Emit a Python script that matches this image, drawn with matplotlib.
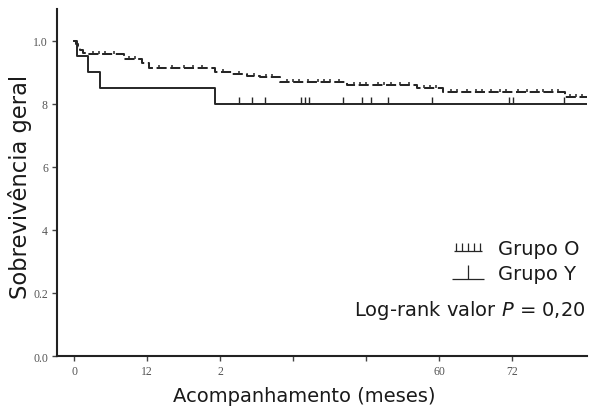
import numpy as np
import matplotlib
matplotlib.use("Agg")
import matplotlib.pyplot as plt
from matplotlib.path import Path
from matplotlib.lines import Line2D

# ---- data ----
o_times = [0, 0.3, 0.6, 1.0, 1.5, 2.0, 8.1, 11.1, 12.2, 23.2, 25.9, 28.4, 30.5, 33.8, 44.8, 56.3, 60.7, 80.7, 84.3]
o_surv = [1.0, 0.99, 0.98, 0.97, 0.962, 0.958, 0.940, 0.928, 0.912, 0.900, 0.894, 0.889, 0.886, 0.870, 0.859, 0.849, 0.836, 0.820, 0.820]
o_censor = [3, 4, 5, 6.5, 9, 10, 14, 16, 18, 19.5, 21, 24.5, 27, 29.5, 31.5, 32.5, 35, 36, 37, 38.5, 40, 41, 42, 43.5,
            46, 47, 48, 50, 51, 52, 53.5, 55, 57.5, 58.5, 59.5, 62, 63, 64.5, 66, 67, 68.5, 70, 71, 73, 74.5, 76, 77,
            78.5, 79.5, 81.5, 82.5, 83.5]

y_times = [0, 0.4, 2.3, 4.3, 23.1, 84.3]
y_surv = [1.0, 0.95, 0.90, 0.85, 0.80, 0.80]
y_censor = [27.0, 29.2, 31.4, 37.3, 38.0, 38.6, 44.2, 47.3, 48.8, 51.5, 58.8, 71.4, 72.2, 80.5]

x_ticks = [0, 12, 24, 36, 48, 60, 72]
x_ticklabels = ["0", "12", "2", "", "", "60", "72"]
y_ticks = [0.0, 0.2, 0.4, 0.6, 0.8, 1.0]
y_ticklabels = ["0.0", "0.2", "4", "6", "8", "1.0"]

labels = ["Grupo O", "Grupo Y"]
pvalue_text = "Log-rank valor $\\it{P}$ = 0,20"

# ---- figure ----
fig = plt.figure(figsize=(5.9, 4.14), dpi=100)
ax = fig.add_axes([57/590, 1-357/414, 530/590, 347/414])

line_col = "#262626"
tick_mark = Path([(0, 0), (0, 1)], [Path.MOVETO, Path.LINETO])


def surv_at(times, surv, c):
    i = np.searchsorted(times, c, side="right") - 1
    return surv[i]


ax.step(o_times, o_surv, where="post", color=line_col, lw=1.45, ls=(0, (5, 1.8)))
ax.plot(o_censor, [surv_at(o_times, o_surv, c) for c in o_censor], ls="none",
        marker=tick_mark, ms=5, mew=1.1, mec=line_col, mfc="none")

ax.step(y_times, y_surv, where="post", color=line_col, lw=1.4)
ax.plot(y_censor, [surv_at(y_times, y_surv, c) for c in y_censor], ls="none",
        marker=tick_mark, ms=10, mew=1.0, mec=line_col, mfc="none")

ax.set_xlim(-2.85, 84.3)
ax.set_ylim(0, 1.10)
ax.set_xticks(x_ticks)
ax.set_xticklabels(x_ticklabels)
ax.set_yticks(y_ticks)
ax.set_yticklabels(y_ticklabels)

for s in ["top", "right"]:
    ax.spines[s].set_visible(False)
for s in ["left", "bottom"]:
    ax.spines[s].set_linewidth(1.5)
    ax.spines[s].set_color("#222222")

ax.tick_params(axis="both", direction="out", length=3.5, width=1.0, color="#444444",
               labelsize=8.5, labelcolor="#555555", pad=3)
for lab in ax.get_xticklabels() + ax.get_yticklabels():
    lab.set_fontfamily("Liberation Serif")

ax.set_xlabel("Acompanhamento (meses)", fontsize=14, color="#1a1a1a", family="DejaVu Sans")
ax.xaxis.set_label_coords(0.466, -0.115)
ax.xaxis.label.set_va("center")
ax.set_ylabel("Sobrevivência geral", fontsize=16.3, color="#1a1a1a", family="DejaVu Sans")
ax.yaxis.set_label_coords(-0.07, 0.49)
ax.yaxis.label.set_va("center")

# legend keys: baseline with upward censor ticks ("шш" for O, "⊥" for Y)
key_o = Path([(-1, -0.32), (1, -0.32),
              (-0.85, -0.32), (-0.85, 0.32), (-0.42, -0.32), (-0.42, 0.32), (0, -0.32), (0, 0.32),
              (0.42, -0.32), (0.42, 0.32), (0.85, -0.32), (0.85, 0.32)],
             [Path.MOVETO, Path.LINETO] + [Path.MOVETO, Path.LINETO] * 5)
key_y = Path([(-1, -0.44), (1, -0.44), (0, -0.44), (0, 0.44)],
             [Path.MOVETO, Path.LINETO, Path.MOVETO, Path.LINETO])
h_o = Line2D([], [], ls="none", marker=key_o, ms=20, mew=0.9, mec=line_col, mfc="none")
h_y = Line2D([], [], ls="none", marker=key_y, ms=23, mew=0.9, mec=line_col, mfc="none")
leg = ax.legend([h_o, h_y], labels, loc="upper left", bbox_to_anchor=(0.745, 0.337),
                frameon=False, fontsize=14, labelspacing=0.3, handlelength=1.7, numpoints=1,
                handletextpad=0.67, borderpad=0, borderaxespad=0)
for t in leg.get_texts():
    t.set_color("#1a1a1a")

ax.text(0.998, 0.118, pvalue_text, transform=ax.transAxes, ha="right", va="baseline",
        fontsize=14, color="#1a1a1a", family="DejaVu Sans")

fig.savefig("out.png", dpi=100)
